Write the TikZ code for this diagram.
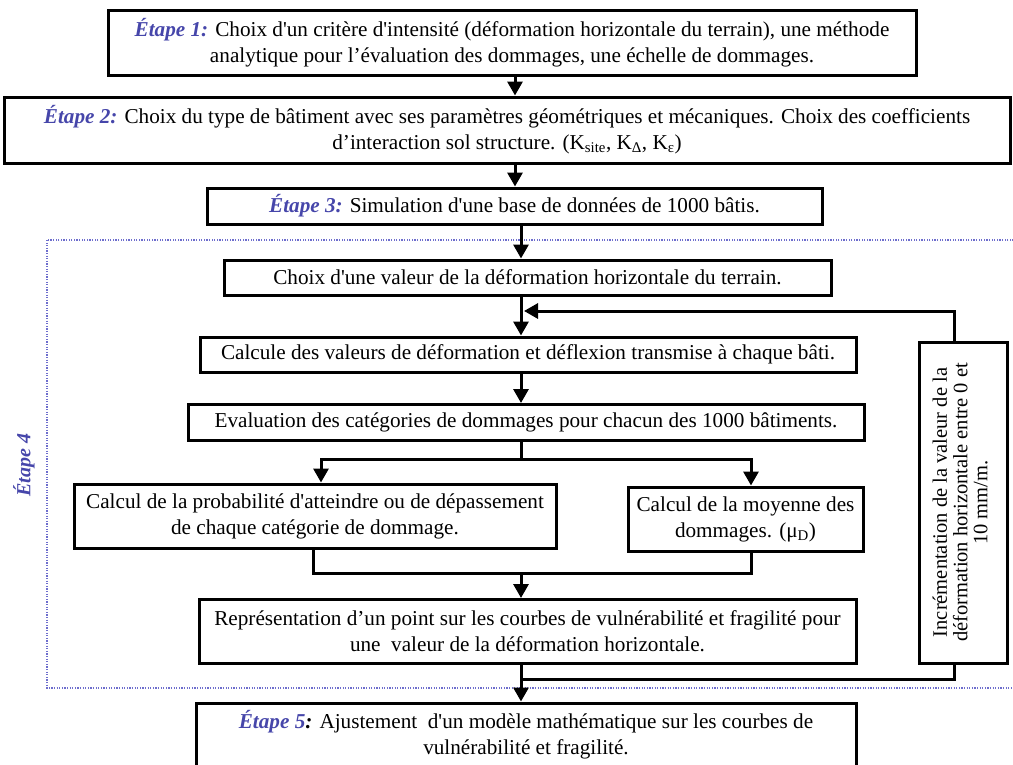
\documentclass[tikz,border=0pt]{standalone}
\usepackage{fontspec}
\usepackage{graphicx}
\setmainfont{Liberation Serif}
\usetikzlibrary{arrows.meta,calc}
\definecolor{etape}{RGB}{70,70,170}
\definecolor{dotc}{RGB}{110,110,205}
\newcommand\et[1]{\textcolor{etape}{\textbf{\textit{#1}}}}
\newcommand\sq{\textquotesingle}
\tikzset{
  box/.style={draw, line width=3pt, align=center, inner sep=0pt},
  ln/.style={line width=3pt},
  arr/.style={line width=3pt, -{Triangle[width=15pt,length=14pt]}},
}
\begin{document}
\begin{tikzpicture}[x=1pt,y=-1pt,font=\fontsize{21.2}{26}\selectfont]
\useasboundingbox (0,0) rectangle (1013,764);
% group frame
\draw[dotc, line width=1.3pt, dash pattern=on 1.2pt off 1.4pt] (47,240) rectangle (1030,688);
\node[rotate=90, text=etape, font=\fontsize{20}{24}\selectfont\bfseries\itshape] (e4) at (24,465) {Étape 4};

\node[box, minimum width=808pt, minimum height=65pt] (b1) at (512,42.5)
  {\et{Étape 1:} Choix d\sq{}un critère d\sq{}intensité (déformation horizontale du terrain), une méthode\\ analytique pour l’évaluation des dommages, une échelle de dommages.};
\node[box, minimum width=1006pt, minimum height=66pt] (b2) at (507,130)
  {\et{Étape 2:} Choix du type de bâtiment avec ses paramètres géométriques et mécaniques. Choix des coefficients\\ d’interaction sol structure. (K\textsubscript{site}, K\textsubscript{Δ}, K\textsubscript{ε})};
\node[box, minimum width=615pt, minimum height=36pt] (b3) at (514.5,206)
  {\et{Étape 3:} Simulation d\sq{}une base de données de 1000 bâtis.};
\node[box, minimum width=607pt, minimum height=35pt] (b4) at (527.5,277.5)
  {Choix d\sq{}une valeur de la déformation horizontale du terrain.};
\node[box, minimum width=656pt, minimum height=35pt] (b5) at (528,354.5)
  {Calcule des valeurs de déformation et déflexion transmise à chaque bâti.};
\node[box, minimum width=676pt, minimum height=36pt] (b6) at (526,422.5)
  {Evaluation des catégories de dommages pour chacun des 1000 bâtiments.};
\node[box, minimum width=482pt, minimum height=64pt] (b7) at (315,516)
  {Calcul de la probabilité d\sq{}atteindre ou de dépassement\\ de chaque catégorie de dommage.};
\node[box, minimum width=235pt, minimum height=64pt] (b8) at (745.5,519)
  {Calcul de la moyenne des\\ dommages. (μ\textsubscript{D})};
\node[box, minimum width=657pt, minimum height=64pt] (b9) at (527.5,631.5)
  {Représentation d’un point sur les courbes de vulnérabilité et fragilité pour\\ une\ \ valeur de la déformation horizontale.};
\node[box, minimum width=660pt, minimum height=64pt] (b10) at (526,735)
  {\et{Étape 5}\textbf{\textit{:}} Ajustement\ \ d\sq{}un modèle mathématique sur les courbes de\\ vulnérabilité et fragilité.};
\node[box, minimum width=88pt, minimum height=321pt] (rb) at (963,502.5)
  {\rotatebox{90}{\fontsize{20.5}{20}\selectfont\begin{tabular}{@{}c@{}}Incrémentation de la valeur de la\\ déformation horizontale entre 0 et\\ 10 mm/m.\end{tabular}}};

% x positions of connectors
\coordinate (xa) at (515,0);
\coordinate (xb) at (521,0);
\coordinate (xl) at (321,0);
\coordinate (xr) at (751,0);
\coordinate (xj) at (313,0);
\coordinate (xf) at (954,0);
\coordinate (fb) at (524,311);
\coordinate (sp) at (521,459);
\coordinate (jn) at (521,573);
\coordinate (bj) at (521,679);

\draw[arr] (b1.south -| xa) -- (b2.north -| xa);
\draw[arr] (b2.south -| xa) -- (b3.north -| xa);
\draw[arr] (b3.south -| xb) -- (b4.north -| xb);
\draw[arr] (b4.south -| xb) -- (b5.north -| xb);
\draw[arr] (b5.south -| xb) -- (b6.north -| xb);
\draw[arr] (rb.north -| xf) |- (fb);
\draw[ln] (b6.south -| xb) -- (sp);
\draw[arr] (sp) -| (b7.north -| xl);
\draw[arr] (sp) -| (b8.north -| xr);
\draw[ln] (b7.south -| xj) |- (jn);
\draw[ln] (b8.south -| xr) |- (jn);
\draw[arr] (jn) -- (b9.north -| xb);
\draw[ln] (rb.south -| xf) |- (bj);
\draw[arr] (b9.south -| xb) -- (b10.north -| xb);
\end{tikzpicture}
\end{document}
